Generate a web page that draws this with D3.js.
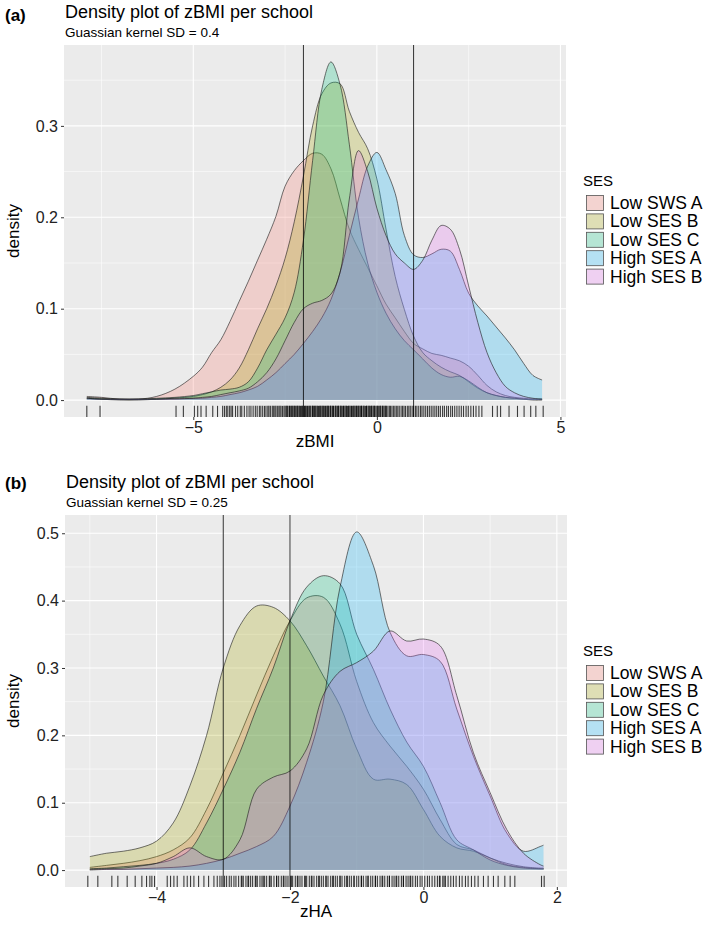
<!DOCTYPE html>
<html>
<head>
<meta charset="utf-8">
<script src="https://d3js.org/d3.v7.min.js"></script>
<style>
  body { margin: 0; background: #fff; }
  svg text { font-family: "Liberation Sans", Arial, Helvetica, sans-serif; }
</style>
</head>
<body>
<svg width="709" height="936"></svg>
<script>

var sesLevels = ["Low SWS A", "Low SES B", "Low SES C", "High SES A", "High SES B"];
var sesColors = ["#F8766D", "#A3A500", "#00BF7D", "#00B0F6", "#E76BF3"];

// ---- panel (a): zBMI, kernel SD 0.4
var gridA = [-7.9, -7.5, -7, -6.5, -6, -5.5, -5, -4.75, -4.5, -4.25, -4, -3.75, -3.5, -3.25, -3, -2.75, -2.5, -2.25, -2, -1.75, -1.5, -1.25, -1, -0.75, -0.5, -0.25, 0, 0.25, 0.5, 0.75, 1, 1.25, 1.5, 1.75, 2, 2.25, 2.5, 2.75, 3, 3.25, 3.5, 3.75, 4, 4.25, 4.5];
var lowSwsA_a = [.004, .003, .001, .001, .004, .012, .026, .036, .052, .066, .086, .108, .13, .153, .176, .201, .234, .251, .262, .27, .269, .253, .22, .187, .165, .145, .125, .105, .09, .075, .062, .056, .051, .049, .046, .043, .037, .027, .016, .009, .005, .003, .002, .001, .001];
var lowSesB_a = [.002, .001, 0, 0, .001, .002, .004, .006, .009, .014, .022, .035, .055, .078, .1, .125, .155, .195, .245, .3, .335, .347, .346, .316, .293, .275, .242, .187, .135, .099, .07, .052, .043, .036, .031, .027, .02, .013, .008, .005, .003, .002, .001, 0, 0];
var lowSesC_a = [.003, .002, .001, .001, .002, .003, .005, .007, .009, .011, .012, .014, .02, .035, .055, .072, .09, .118, .175, .262, .34, .37, .345, .28, .2, .15, .118, .095, .078, .065, .055, .045, .035, .028, .025, .026, .021, .014, .008, .005, .003, .002, .001, .001, .001];
var highSesA_a = [.002, .001, .001, .001, .001, .001, .002, .002, .003, .004, .006, .008, .011, .015, .022, .03, .04, .05, .062, .075, .09, .11, .14, .18, .22, .256, .271, .252, .226, .18, .159, .156, .16, .165, .163, .143, .117, .103, .092, .08, .068, .055, .04, .027, .022];
var highSesB_a = [.002, .001, .001, .001, .001, .002, .002, .003, .004, .006, .008, .01, .013, .02, .03, .045, .065, .085, .1, .106, .109, .116, .14, .22, .273, .25, .21, .18, .16, .15, .143, .153, .175, .191, .187, .165, .125, .085, .052, .03, .015, .008, .004, .002, .001];
var rugA = [-7.9, -7.54, -5.47, -5.27, -4.97, -4.88, -4.79, -4.65, -4.47, -4.34, -4.2,
  -4.15, -4.1, -4.06, -4.01, -3.97, -3.93, -3.85, -3.79, -3.72, -3.68, -3.61, -3.54, -3.48, -3.43, -3.37, -3.31, -3.26, -3.2, -3.16, -3.11, -3.06, -3.02,
  -2.97, -2.94, -2.9, -2.85, -2.82, -2.78, -2.75, -2.71, -2.67, -2.64, -2.61, -2.57, -2.53, -2.5, -2.47, -2.43, -2.39, -2.36, -2.33, -2.29, -2.26, -2.22, -2.18, -2.15, -2.12, -2.08, -2.05, -2.01,
  -1.97, -1.94, -1.91, -1.87, -1.84, -1.8, -1.76, -1.73, -1.7, -1.66, -1.63, -1.59, -1.56, -1.52, -1.49, -1.45, -1.42, -1.38, -1.35, -1.32, -1.28, -1.25, -1.21, -1.18, -1.14, -1.11, -1.07, -1.04, -1.0,
  -0.97, -0.93, -0.9, -0.87, -0.83, -0.8, -0.76, -0.73, -0.69, -0.66, -0.62, -0.59, -0.55, -0.52, -0.49, -0.45, -0.42, -0.38, -0.35, -0.31, -0.28, -0.24, -0.21, -0.17, -0.14, -0.1, -0.07, -0.03,
  0.0, 0.04, 0.08, 0.11, 0.15, 0.19, 0.22, 0.26, 0.3, 0.34, 0.37, 0.41, 0.45, 0.49, 0.53, 0.57, 0.61, 0.66, 0.7, 0.74, 0.78, 0.83, 0.87, 0.91, 0.96, 1.0, 1.05, 1.09, 1.14, 1.19, 1.23, 1.28, 1.33, 1.38, 1.43, 1.48,
  1.53, 1.58, 1.63, 1.68, 1.73, 1.79, 1.84, 1.9, 1.95, 2.01, 2.06, 2.12, 2.18, 2.24, 2.3, 2.36, 2.43, 2.49, 2.56, 2.63, 2.7, 2.78, 2.86,
  3.15, 3.28, 3.37, 3.6, 3.83, 4.01, 4.19, 4.33, 4.53,
  -2.45, -2.38, -2.31, -2.24, -2.17, -2.1, -2.03, -1.96, -1.89, -1.82, -1.75, -1.68, -1.61, -1.54, -1.47, -1.4, -1.33, -1.26, -1.19, -1.12,
  -1.05, -0.98, -0.91, -0.84, -0.77, -0.7, -0.63, -0.56, -0.49, -0.42, -0.35, -0.28, -0.21, -0.14, -0.07, 0.02, 0.09, 0.16, 0.24];
var xTicksA = [-5, 0, 5];
var yTicksA = [0, 0.1, 0.2, 0.3];
var vlinesA = [-2, 1];

// ---- panel (b): zHA, kernel SD 0.25
var gridB = [-5, -4.75, -4.5, -4.25, -4, -3.75, -3.5, -3.25, -3, -2.75, -2.5, -2.25, -2, -1.75, -1.5, -1.25, -1, -0.75, -0.5, -0.25, 0, 0.25, 0.5, 0.75, 1, 1.25, 1.5, 1.75, 1.8];
var lowSwsA_b = [.004, .007, .01, .014, .02, .03, .048, .09, .144, .2, .26, .318, .37, .404, .405, .365, .28, .219, .184, .154, .12, .075, .038, .03, .018, .01, .005, .003, .003];
var lowSesB_b = [.02, .025, .028, .033, .043, .07, .125, .2, .3, .363, .392, .39, .37, .333, .288, .244, .18, .135, .135, .127, .09, .05, .033, .028, .018, .008, .004, .002, .002];
var lowSesC_b = [.002, .003, .005, .007, .01, .016, .03, .07, .12, .175, .24, .3, .37, .42, .437, .425, .35, .298, .239, .19, .154, .1, .045, .03, .015, .007, .003, .002, .002];
var highSesA_b = [0, .001, .001, .002, .003, .004, .006, .01, .016, .025, .035, .05, .095, .16, .25, .42, .502, .452, .353, .318, .32, .31, .239, .169, .11, .055, .028, .035, .037];
var highSesB_b = [.001, .002, .003, .006, .01, .02, .033, .02, .016, .045, .12, .138, .147, .18, .26, .295, .308, .325, .355, .34, .343, .333, .259, .174, .115, .06, .025, .008, .006];
var rugB = [-5.03, -4.88, -4.67, -4.58, -4.44, -4.32, -4.22, -4.15, -4.1, -4.07, -4.03,
  -3.84, -3.79, -3.74, -3.69, -3.59, -3.54, -3.49, -3.44, -3.37, -3.29, -3.22, -3.14,
  -3.09, -3.05, -3.02, -2.98, -2.95, -2.91, -2.88, -2.84, -2.81, -2.77, -2.73, -2.7, -2.66, -2.63, -2.59, -2.56, -2.52, -2.49, -2.45, -2.42, -2.38, -2.35, -2.31, -2.28, -2.24, -2.2, -2.17, -2.13, -2.1, -2.06, -2.03,
  -1.99, -1.96, -1.92, -1.89, -1.85, -1.82, -1.78, -1.75, -1.71, -1.68, -1.64, -1.6, -1.57, -1.53, -1.5, -1.46, -1.43, -1.39, -1.36, -1.32, -1.29, -1.25, -1.22, -1.18, -1.15, -1.11, -1.08, -1.04, -1.0,
  -0.97, -0.93, -0.9, -0.86, -0.83, -0.79, -0.76, -0.72, -0.69, -0.65, -0.61, -0.58, -0.54, -0.51, -0.47, -0.44, -0.4, -0.37, -0.33, -0.3, -0.26, -0.23, -0.19, -0.16, -0.12, -0.09, -0.05, -0.02,
  0.02, 0.06, 0.09, 0.13, 0.17, 0.21, 0.25, 0.29, 0.33, 0.37, 0.41, 0.45, 0.49, 0.54, 0.58, 0.63, 0.67, 0.72, 0.77, 0.82,
  0.9, 0.97, 1.05, 1.12, 1.22, 1.3, 1.37, 1.77, 1.81,
  -2.72, -2.62, -2.51, -2.4, -2.3, -2.2, -2.09, -1.98, -1.88, -1.77, -1.67, -1.56, -1.46, -1.35, -1.25, -1.14, -1.04,
  -0.93, -0.83, -0.72, -0.62, -0.51, -0.41, -0.3, -0.2, 0.24, 0.31];
var xTicksB = [-4, -2, 0, 2];
var yTicksB = [0, 0.1, 0.2, 0.3, 0.4, 0.5];
var vlinesB = [-3, -2];

var svg = d3.select("svg");

function expand(ext) {
  var pad = (ext[1] - ext[0]) * 0.05;
  return [ext[0] - pad, ext[1] + pad];
}

function midpoints(ticks, dom) {
  var step = ticks[1] - ticks[0];
  var out = [];
  for (var t = ticks[0] - step / 2; t <= dom[1]; t += step) {
    if (t >= dom[0]) out.push(t);
  }
  return out;
}

function drawPanel(p) {
  var series = p.series;
  var xDom = expand(d3.extent(p.grid.concat(p.rug)));
  var yMax = d3.max(series, function(s) { return d3.max(s); });
  var yDom = expand([0, yMax]);

  var x = d3.scaleLinear().domain(xDom).range([p.left, p.right]);
  var y = d3.scaleLinear().domain(yDom).range([p.bottom, p.top]);

  var g = svg.append("g");

  // tag + titles
  g.append("text").attr("x", 5).attr("y", p.top - 24 + p.tagDy)
    .style("font-size", "17px").style("font-weight", "bold").text(p.tag);
  g.append("text").attr("x", p.left + 1).attr("y", p.top - 27)
    .style("font-size", "18px").text(p.title);
  g.append("text").attr("x", p.left + 1).attr("y", p.top - 8)
    .style("font-size", "13.5px").text(p.subtitle);

  // panel background
  g.append("rect").attr("x", p.left).attr("y", p.top)
    .attr("width", p.right - p.left).attr("height", p.bottom - p.top)
    .attr("fill", "#EBEBEB");

  var clipId = "clip" + p.tag.replace(/\W/g, "");
  svg.append("clipPath").attr("id", clipId).append("rect")
    .attr("x", p.left).attr("y", p.top)
    .attr("width", p.right - p.left).attr("height", p.bottom - p.top);

  var inner = g.append("g").attr("clip-path", "url(#" + clipId + ")");

  // minor grid
  midpoints(p.xTicks, xDom).forEach(function(t) {
    inner.append("line").attr("x1", x(t)).attr("x2", x(t)).attr("y1", p.top).attr("y2", p.bottom)
      .attr("stroke", "#fff").attr("stroke-width", 0.55);
  });
  midpoints(p.yTicks, yDom).forEach(function(t) {
    inner.append("line").attr("x1", p.left).attr("x2", p.right).attr("y1", y(t)).attr("y2", y(t))
      .attr("stroke", "#fff").attr("stroke-width", 0.55);
  });
  // major grid
  p.xTicks.forEach(function(t) {
    inner.append("line").attr("x1", x(t)).attr("x2", x(t)).attr("y1", p.top).attr("y2", p.bottom)
      .attr("stroke", "#fff").attr("stroke-width", 1.1);
  });
  p.yTicks.forEach(function(t) {
    inner.append("line").attr("x1", p.left).attr("x2", p.right).attr("y1", y(t)).attr("y2", y(t))
      .attr("stroke", "#fff").attr("stroke-width", 1.1);
  });

  // densities
  var area = d3.area()
    .x(function(d) { return x(d[0]); })
    .y0(y(0))
    .y1(function(d) { return y(d[1]); })
    .curve(d3.curveCatmullRom.alpha(0.5));
  var line = area.lineY1();

  series.forEach(function(vals, i) {
    var pts = p.grid.map(function(gx, j) { return [gx, vals[j]]; });
    inner.append("path").datum(pts).attr("d", area)
      .attr("fill", sesColors[i]).attr("fill-opacity", 0.25);
    inner.append("path").datum(pts).attr("d", line)
      .attr("fill", "none").attr("stroke", "#1a1a1a").attr("stroke-width", 0.6);
  });

  // rug
  var rugLen = (p.bottom - p.top) * 0.03;
  inner.selectAll(".rug").data(p.rug).enter().append("line")
    .attr("x1", function(d) { return x(d); }).attr("x2", function(d) { return x(d); })
    .attr("y1", p.bottom).attr("y2", p.bottom - rugLen)
    .attr("stroke", "#000").attr("stroke-opacity", 0.75).attr("stroke-width", 1.1);

  // reference lines
  p.vlines.forEach(function(v) {
    inner.append("line").attr("x1", x(v)).attr("x2", x(v)).attr("y1", p.top).attr("y2", p.bottom)
      .attr("stroke", "#000").attr("stroke-width", 0.8);
  });

  // axes
  var fmtX = d3.format("d");
  var fmtY = d3.format(".1f");
  var xa = g.append("g").attr("transform", "translate(0," + p.bottom + ")")
    .call(d3.axisBottom(x).tickValues(p.xTicks).tickFormat(fmtX).tickSize(3).tickPadding(2));
  var ya = g.append("g").attr("transform", "translate(" + p.left + ",0)")
    .call(d3.axisLeft(y).tickValues(p.yTicks).tickFormat(fmtY).tickSize(3).tickPadding(3));
  [xa, ya].forEach(function(a) {
    a.select(".domain").remove();
    a.selectAll(".tick line").attr("stroke", "#333");
    a.selectAll(".tick text").attr("fill", "#222").style("font-size", "16px");
  });

  g.append("text").attr("x", (p.left + p.right) / 2).attr("y", p.bottom + 30)
    .attr("text-anchor", "middle").style("font-size", "17px").text(p.xLabel);
  g.append("text")
    .attr("transform", "translate(19," + ((p.top + p.bottom) / 2) + ") rotate(-90)")
    .attr("text-anchor", "middle").style("font-size", "17px").text("density");

  // legend
  var lg = g.append("g");
  lg.append("text").attr("x", 583).attr("y", p.legendTop)
    .style("font-size", "15px").text("SES");
  sesLevels.forEach(function(lab, i) {
    var ky = p.legendTop + 9.5 + i * 18.4;
    lg.append("rect").attr("x", 586).attr("y", ky).attr("width", 18).attr("height", 16)
      .attr("fill", "#F2F2F2");
    lg.append("rect").attr("x", 586.5).attr("y", ky + 0.5).attr("width", 17).attr("height", 15)
      .attr("fill", sesColors[i]).attr("fill-opacity", 0.25)
      .attr("stroke", "#555").attr("stroke-width", 0.8);
    lg.append("text").attr("x", 610).attr("y", ky + 14)
      .style("font-size", "17.5px").text(lab);
  });
}

drawPanel({
  tag: "(a)", tagDy: 0, title: "Density plot of zBMI per school", subtitle: "Guassian kernel SD = 0.4",
  left: 64, right: 566, top: 45, bottom: 417,
  grid: gridA, series: [lowSwsA_a, lowSesB_a, lowSesC_a, highSesA_a, highSesB_a], rug: rugA,
  xTicks: xTicksA, yTicks: yTicksA, vlines: vlinesA, xLabel: "zBMI", legendTop: 185.5
});

drawPanel({
  tag: "(b)", tagDy: -2, title: "Density plot of zBMI per school", subtitle: "Guassian kernel SD = 0.25",
  left: 65, right: 567, top: 515, bottom: 887,
  grid: gridB, series: [lowSwsA_b, lowSesB_b, lowSesC_b, highSesA_b, highSesB_b], rug: rugB,
  xTicks: xTicksB, yTicks: yTicksB, vlines: vlinesB, xLabel: "zHA", legendTop: 655.5
});

</script>
</body>
</html>
